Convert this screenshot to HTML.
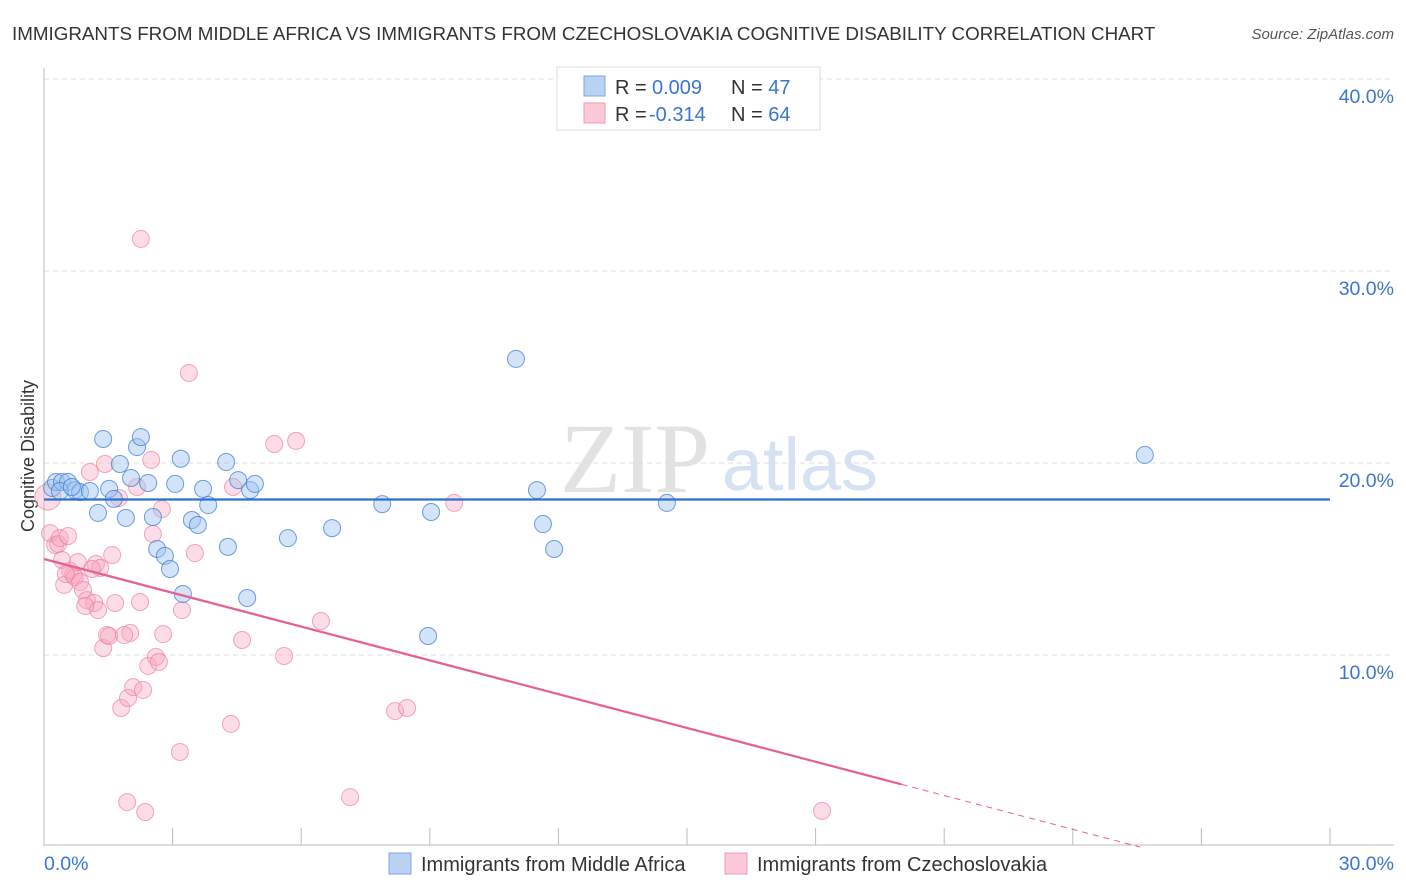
<!DOCTYPE html>
<html><head><meta charset="utf-8">
<style>
body{margin:0;background:#fff;font-family:"Liberation Sans",sans-serif;}
svg{display:block}
</style></head>
<body>
<svg id="chart" width="1406" height="892">
<text x="12" y="40" font-size="18.8" fill="#333">IMMIGRANTS FROM MIDDLE AFRICA VS IMMIGRANTS FROM CZECHOSLOVAKIA COGNITIVE DISABILITY CORRELATION CHART</text>
<text x="1394" y="39" font-size="15" fill="#555" text-anchor="end" font-style="italic">Source: ZipAtlas.com</text>
<text x="635" y="492" font-size="100" fill="#e2e2e2" font-family="Liberation Serif,serif" text-anchor="middle">ZIP</text>
<text x="800" y="490" font-size="74" fill="#d6e2f2" text-anchor="middle">atlas</text>
<text transform="translate(34,456) rotate(-90)" font-size="18" fill="#333" text-anchor="middle">Cognitive Disability</text>
<g id="grid"></g><g id="pts"></g><g id="lines"></g>
<g>
<rect x="557" y="67" width="263" height="63" fill="#fff" stroke="#ddd"/>
<rect x="584" y="76" width="21" height="20" fill="#b9d1f3" stroke="#7aa7e3"/>
<rect x="584" y="103" width="21" height="20" fill="#fbc9d7" stroke="#ef9ab2"/>
<text x="615" y="94" font-size="20" fill="#333">R = <tspan x="652" fill="#3a75d4">0.009</tspan><tspan x="731">N = </tspan><tspan fill="#3a75d4">47</tspan></text>
<text x="615" y="121" font-size="20" fill="#333">R = <tspan x="649" fill="#3a75d4">-0.314</tspan><tspan x="731">N = </tspan><tspan fill="#3a75d4">64</tspan></text>
</g>
<g>
<rect x="389" y="853" width="22" height="21" fill="#b9d1f3" stroke="#7aa7e3"/>
<text x="421" y="871" font-size="20" fill="#333">Immigrants from Middle Africa</text>
<rect x="725" y="853" width="22" height="21" fill="#fbc9d7" stroke="#ef9ab2"/>
<text x="757" y="871" font-size="20" fill="#333">Immigrants from Czechoslovakia</text>
</g>
<text x="44" y="870" font-size="19.5" fill="#3a75d4">0.0%</text>
<text x="1394" y="870" font-size="19.5" fill="#3a75d4" text-anchor="end">30.0%</text>
</svg>
<script>
const yTicks=[10,20,30,40];
const xTickVals=[0,3,6,9,12,15,18,21,24,27,30];
const blueX=[0.19,0.28,0.42,0.56,0.72,0.84,1.07,1.26,1.38,1.52,1.63,1.77,1.91,2.03,2.17,2.26,2.43,2.54,2.64,2.82,2.94,3.06,3.19,3.24,3.45,3.59,3.71,3.83,4.25,4.29,4.53,4.74,4.81,4.92,5.69,6.72,7.89,8.96,9.03,11.01,11.50,11.64,11.90,14.53,25.68,0.37,0.65];
const blueY=[18.70,19.01,19.01,19.01,18.59,18.49,18.54,17.40,21.25,18.65,18.13,19.95,17.14,19.22,20.83,21.35,18.96,17.19,15.52,15.16,14.48,18.91,20.22,13.18,17.03,16.77,18.65,17.81,20.05,15.63,19.11,12.97,18.59,18.91,16.09,16.61,17.86,10.99,17.45,25.42,18.59,16.82,15.52,17.92,20.42,18.54,18.75];
const pinkX=[0.09,0.14,0.26,0.33,0.37,0.42,0.47,0.56,0.61,0.68,0.72,0.79,0.84,0.91,1.00,1.07,1.17,1.21,1.26,1.31,1.38,1.42,1.47,1.52,1.59,1.66,1.75,1.80,1.94,1.96,2.01,2.08,2.17,2.24,2.26,2.31,2.36,2.43,2.50,2.54,2.61,2.68,2.75,2.78,3.17,3.22,3.38,3.52,4.36,4.41,4.62,5.37,5.60,5.88,6.46,7.14,8.19,8.47,9.57,18.15,0.51,0.96,1.12,1.87];
const pinkY=[18.23,16.35,15.73,15.78,16.09,14.95,13.65,16.20,14.38,14.17,14.06,14.84,13.80,13.39,12.86,19.53,12.71,14.74,12.34,14.53,10.36,19.95,11.04,10.99,15.21,12.71,18.18,7.24,2.34,7.76,11.15,8.33,18.75,12.76,31.67,8.18,1.82,9.43,20.16,16.30,9.90,9.64,17.60,11.09,4.95,12.34,24.69,15.31,6.41,18.75,10.78,20.99,9.95,21.15,11.77,2.60,7.08,7.24,17.92,1.88,14.22,12.55,14.48,11.04];
const blueFit=[18.1,18.1];
const pinkFit=[15.0,-2.6];
const pinkSolidEnd=20.0;
const X=v=>44+v/30*1286, Y=v=>847-v*19.2;
const NS="http://www.w3.org/2000/svg";
function mk(t,a,p){const e=document.createElementNS(NS,t);for(const k in a)e.setAttribute(k,a[k]);p.appendChild(e);return e;}
const grid=document.getElementById('grid');
yTicks.forEach(t=>{
 const l=mk('line',{x1:44,x2:1394,y1:Y(t),y2:Y(t),stroke:'#ddd','stroke-dasharray':'5,4'},grid);
 
 
 const tx=mk('text',{x:1394,y:Y(t)+24,'font-size':19.5,fill:'#3a75d4','text-anchor':'end'},grid);
 tx.textContent=t.toFixed(1)+'%';
 
 
});
const ax=mk('line',{x1:44,x2:44,y1:68,y2:846,stroke:'#bbb'},grid);


const bx=mk('line',{x1:44,x2:1394,y1:845,y2:845,stroke:'#bbb'},grid);


xTickVals.forEach(t=>{
 const l=mk('line',{x1:X(t),x2:X(t),y1:828,y2:845,stroke:'#bbb'},grid);
 
 
});
const pts=document.getElementById('pts');
pinkX.forEach((x,i)=>{
 const c=mk('circle',{cx:X(x),cy:Y(pinkY[i]),r:i==0?13:8.5,fill:'rgba(247,168,192,0.4)',stroke:'rgba(236,130,160,0.7)','stroke-width':1},pts);
 
 
});
blueX.forEach((x,i)=>{
 const c=mk('circle',{cx:X(x),cy:Y(blueY[i]),r:8.5,fill:'rgba(160,195,240,0.45)',stroke:'rgba(60,125,215,0.75)','stroke-width':1},pts);
 
 
});
const lines=document.getElementById('lines');
const bl=mk('line',{x1:X(0),x2:X(30),y1:Y(blueFit[0]),y2:Y(blueFit[1]),stroke:'#2d6fd1','stroke-width':2.2},lines);


const pAt=x=>pinkFit[0]+(pinkFit[1]-pinkFit[0])*x/30;
const pl=mk('line',{x1:X(0),x2:X(pinkSolidEnd),y1:Y(pAt(0)),y2:Y(pAt(pinkSolidEnd)),stroke:'#e8608d','stroke-width':2.2},lines);


const xz=-pinkFit[0]/((pinkFit[1]-pinkFit[0])/30);
const pd=mk('line',{x1:X(pinkSolidEnd),x2:X(Math.min(30,xz)),y1:Y(pAt(pinkSolidEnd)),y2:Y(pAt(Math.min(30,xz))),stroke:'#e8608d','stroke-width':1,'stroke-dasharray':'6,5'},lines);


</script>
</body></html>
